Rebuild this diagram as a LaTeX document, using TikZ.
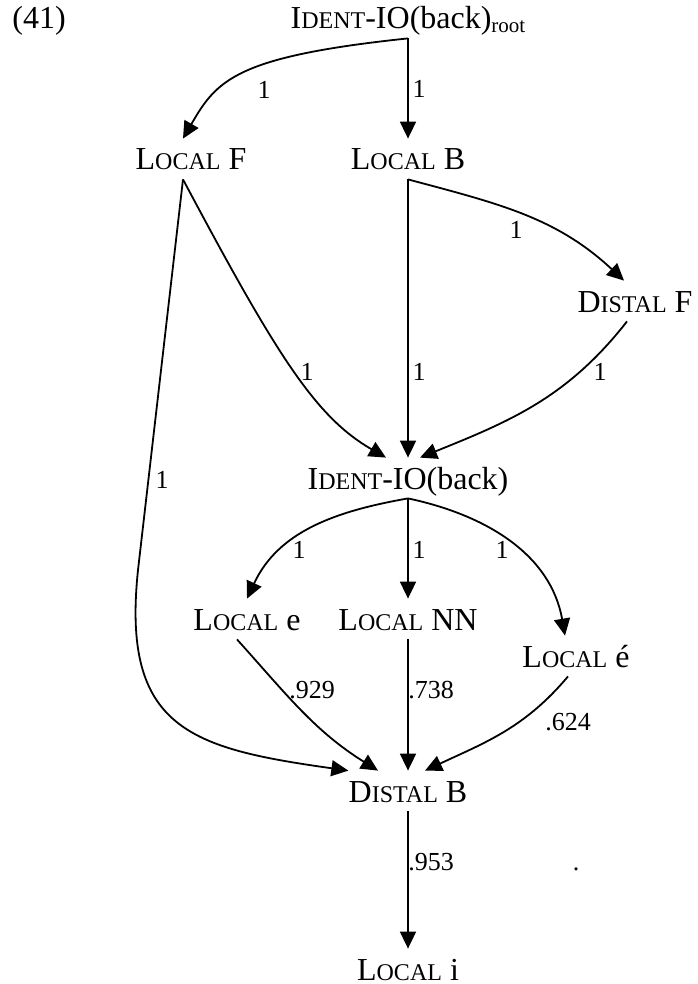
\documentclass[tikz,border=0pt]{standalone}
\usepackage{fontspec}
\setmainfont{Liberation Serif}
\usetikzlibrary{arrows.meta}
\newcommand{\smc}[1]{{\fontsize{12}{12}\selectfont #1}}
\newcommand{\lcl}[1]{L\smc{OCAL} #1}
\newcommand{\dst}[1]{D\smc{ISTAL} #1}
\tikzset{
  cons/.style={anchor=base, font=\fontsize{16}{18}\selectfont, inner xsep=0pt,
    inner ysep=4.5pt, text height=11pt, text depth=0pt},
  wt/.style={font=\fontsize{13}{14}\selectfont, inner sep=0pt},
  arc/.style={-{Triangle[length=8.5pt,width=8pt]}, line width=0.9pt}
}

\begin{document}
\begin{tikzpicture}[x=0.5pt,y=0.5pt]
  \useasboundingbox (0,0) rectangle (697,-984);
  \node[cons,anchor=base west] (num) at (12,-29) {(41)};
  \node[cons] (rootid) at (408,-29) {I\smc{DENT}-IO(back)\raisebox{-2pt}{\fontsize{10.5}{11}\selectfont root}};
  \node[cons] (locF) at (191,-170) {\lcl{F}};
  \node[cons] (locB) at (408,-170) {\lcl{B}};
  \node[cons] (disF) at (635,-312) {\dst{F}};
  \node[cons] (ident) at (408,-489) {I\smc{DENT}-IO(back)};
  \node[cons] (loce) at (247,-630) {\lcl{e}};
  \node[cons] (locNN) at (408,-630) {\lcl{NN}};
  \node[cons] (loceacute) at (576,-667) {\lcl{é}};
  \node[cons] (disB) at (408,-802) {\dst{B}};
  \node[cons] (loci) at (408,-980) {\lcl{i}};
  \coordinate (bend) at (138,-570);

  \draw[arc] (rootid.south) to[out=186,in=60,out looseness=1.8,in looseness=0.7] ([xshift=-4pt]locF.north);
  \draw[arc] (rootid.south) -- (locB.north);
  \draw[arc] (locB.south) to[out=-15,in=137] ([xshift=-5.5pt]disF.north);
  \draw[arc] ([xshift=-4pt]locF.south) to[out=-62,in=150,out looseness=1.5,in looseness=0.6] ([xshift=-11pt]ident.north);
  \draw[arc] (locB.south) -- (ident.north);
  \draw[arc] ([xshift=-4pt]disF.south) to[out=-128,in=22] ([xshift=6pt]ident.north);
  \draw[arc] ([xshift=-4pt]locF.south) -- (bend) to[out=-96,in=172,looseness=1.4] (disB.north west);
  \draw[arc] (ident.south) to[out=190,in=65] (loce.north);
  \draw[arc] (ident.south) -- (locNN.north);
  \draw[arc] (ident.south) to[out=-12,in=100] ([xshift=-5.5pt]loceacute.north);
  \draw[arc] ([xshift=-5pt]loce.south) to[out=-48,in=148] ([xshift=-15pt]disB.north);
  \draw[arc] (locNN.south) -- (disB.north);
  \draw[arc] ([xshift=-4pt]loceacute.south) to[out=-130,in=25] ([xshift=8.5pt]disB.north);
  \draw[arc] (disB.south) -- (loci.north);

  % weights on the arcs
  \foreach \x/\y/\w [count=\i] in {264/90/1, 419/89/1, 516/230/1, 307/372/1, 419/372/1,
      600/372/1, 162/480/1, 299/550/1, 419/550/1, 502/550/1, 312/690/.929,
      431/690/.738, 568/722/.624, 431/862/.953}
    \node[wt] (w\i) at (\x,-\y) {\w};
  \node[wt] (dot) at (576,-869) {.};
\end{tikzpicture}
\end{document}
